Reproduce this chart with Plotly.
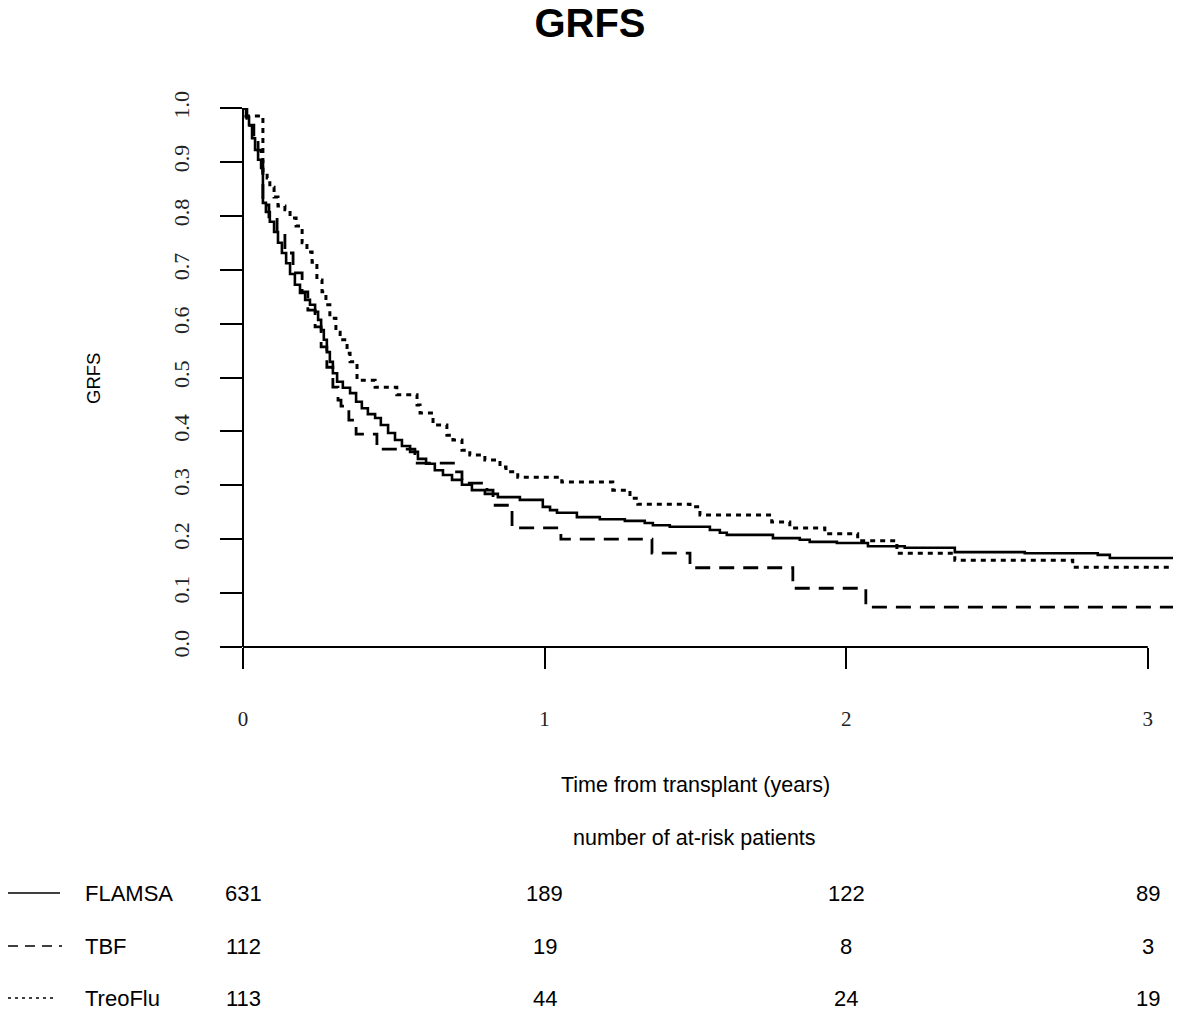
import plotly.graph_objects as go

# ---------------- data ----------------
flamsa_t = [0, 0.010, 0.020, 0.030, 0.040, 0.050, 0.060, 0.066, 0.076, 0.089, 0.103, 0.116, 0.129,
            0.143, 0.156, 0.172, 0.189, 0.206, 0.222, 0.239, 0.249, 0.259, 0.268, 0.278, 0.288,
            0.298, 0.312, 0.331, 0.355, 0.375, 0.394, 0.414, 0.438, 0.457, 0.481, 0.504, 0.527,
            0.554, 0.580, 0.607, 0.636, 0.663, 0.693, 0.726, 0.759, 0.802, 0.845, 0.918, 0.994,
            1.018, 1.041, 1.107, 1.183, 1.266, 1.332, 1.359, 1.415, 1.548, 1.581, 1.604, 1.757,
            1.846, 1.879, 1.969, 2.072, 2.194, 2.360, 2.592, 2.834, 2.874, 3.10]
flamsa_s = [1.0, 0.983, 0.968, 0.944, 0.922, 0.904, 0.889, 0.824, 0.807, 0.789, 0.770, 0.750, 0.731,
            0.712, 0.692, 0.672, 0.657, 0.644, 0.635, 0.622, 0.607, 0.588, 0.570, 0.547, 0.529,
            0.508, 0.492, 0.481, 0.471, 0.455, 0.443, 0.432, 0.425, 0.412, 0.397, 0.384, 0.373,
            0.362, 0.349, 0.340, 0.328, 0.319, 0.310, 0.301, 0.291, 0.284, 0.278, 0.273, 0.260,
            0.254, 0.249, 0.241, 0.237, 0.234, 0.230, 0.226, 0.223, 0.217, 0.212, 0.208, 0.202,
            0.199, 0.195, 0.193, 0.187, 0.184, 0.176, 0.174, 0.171, 0.165, 0.165]

tbf_t = [0, 0.013, 0.023, 0.036, 0.050, 0.060, 0.066, 0.086, 0.113, 0.139, 0.166, 0.196, 0.215,
         0.239, 0.259, 0.278, 0.298, 0.315, 0.325, 0.351, 0.375, 0.444, 0.570, 0.703, 0.726,
         0.809, 0.829, 0.892, 1.054, 1.356, 1.482, 1.823, 2.065, 3.10]
tbf_s = [1.0, 0.981, 0.968, 0.944, 0.922, 0.904, 0.820, 0.798, 0.768, 0.731, 0.694, 0.659, 0.625,
         0.594, 0.557, 0.519, 0.482, 0.458, 0.447, 0.421, 0.395, 0.367, 0.341, 0.325, 0.304,
         0.291, 0.263, 0.221, 0.200, 0.174, 0.147, 0.109, 0.074, 0.074]

treo_t = [0, 0.010, 0.066, 0.080, 0.089, 0.103, 0.116, 0.139, 0.156, 0.176, 0.196, 0.212, 0.229,
          0.245, 0.262, 0.275, 0.288, 0.308, 0.322, 0.345, 0.355, 0.378, 0.438, 0.510, 0.577,
          0.587, 0.630, 0.676, 0.696, 0.726, 0.752, 0.802, 0.852, 0.872, 0.911, 1.057, 1.226,
          1.283, 1.309, 1.482, 1.515, 1.753, 1.813, 1.929, 2.038, 2.168, 2.360, 2.751, 3.10]
treo_s = [1.0, 0.985, 0.881, 0.870, 0.853, 0.835, 0.818, 0.811, 0.796, 0.781, 0.750, 0.733, 0.714,
          0.681, 0.659, 0.635, 0.610, 0.584, 0.570, 0.545, 0.529, 0.495, 0.482, 0.468, 0.449,
          0.434, 0.412, 0.393, 0.384, 0.365, 0.356, 0.347, 0.334, 0.325, 0.315, 0.306, 0.291,
          0.276, 0.265, 0.260, 0.245, 0.232, 0.221, 0.210, 0.197, 0.174, 0.161, 0.148, 0.148]

group_names = ["FLAMSA", "TBF", "TreoFlu"]
risk_times = [0, 1, 2, 3]
risk_counts = [[631, 189, 122, 89],
               [112, 19, 8, 3],
               [113, 44, 24, 19]]
x_ticks = [0, 1, 2, 3]
y_ticks = [0.0, 0.1, 0.2, 0.3, 0.4, 0.5, 0.6, 0.7, 0.8, 0.9, 1.0]
y_tick_text = ["%.1f" % v for v in y_ticks]

# ---------------- figure ----------------
OFF = 8  # page body margin of the browser
W, H = 1181 - OFF, 1010 - OFF
L, T = 243 - OFF, 108 - OFF
R = W - (1178 - OFF)
B = H - (647 - OFF)
XMAX = 3.10
plot_w = W - L - R
plot_h = H - T - B

def px2paper_x(px):
    return (px - OFF - L) / plot_w

def py2paper_y(py):
    return (H - B - (py - OFF)) / plot_h

dashes = ["solid", "15px,9px", "5px,5px"]
widths = [2.6, 2.8, 3.0]
series = [(flamsa_t, flamsa_s), (tbf_t, tbf_s), (treo_t, treo_s)]

fig = go.Figure()
for (t, s), d, w, n in zip(series, dashes, widths, group_names):
    fig.add_trace(go.Scatter(x=t, y=s, mode="lines", name=n,
                             line=dict(color="black", width=w, dash=d, shape="hv"),
                             cliponaxis=False, showlegend=False))

serif = "Liberation Serif, Times New Roman, serif"
sans = "Liberation Sans, Arial, sans-serif"

fig.update_layout(
    width=W, height=H,
    margin=dict(l=L, r=R, t=T, b=B),
    plot_bgcolor="white", paper_bgcolor="white",
    showlegend=False,
    title=dict(text="<b>GRFS</b>", x=(590 - OFF) / W, xref="container",
               y=1 - (23 - OFF) / H, yref="container",
               xanchor="center", yanchor="middle",
               font=dict(family=sans, size=40, color="black")),
    xaxis=dict(range=[0, XMAX], tickvals=x_ticks, ticktext=[str(v) for v in x_ticks],
               showgrid=False, zeroline=False, showline=False,
               ticks="outside", ticklen=21, tickwidth=2, tickcolor="black",
               ticklabelstandoff=32,
               tickfont=dict(family=serif, size=21, color="#222")),
    yaxis=dict(range=[0, 1], tickvals=y_ticks, ticktext=y_tick_text,
               showgrid=False, zeroline=False, showline=False,
               ticks="outside", ticklen=22, tickwidth=2, tickcolor="black",
               tickangle=-90, ticklabelstandoff=22,
               tickfont=dict(family=serif, size=22, color="#222")),
)

# axis lines (R style: from first to last tick)
fig.add_shape(type="line", xref="paper", yref="paper", x0=0, x1=3 / XMAX, y0=0, y1=0,
              line=dict(color="black", width=2))
fig.add_shape(type="line", xref="paper", yref="paper", x0=0, x1=0, y0=0, y1=1,
              line=dict(color="black", width=2))

# axis titles
fig.add_annotation(text="GRFS", xref="paper", yref="paper", x=px2paper_x(93), y=py2paper_y(379),
                   textangle=-90, showarrow=False, xanchor="center", yanchor="middle",
                   font=dict(family=sans, size=18.5, color="black"))
fig.add_annotation(text="Time from transplant (years)", xref="paper", yref="paper",
                   x=px2paper_x(695), y=py2paper_y(785), showarrow=False,
                   xanchor="center", yanchor="middle",
                   font=dict(family=sans, size=21.5, color="black"))
fig.add_annotation(text="number of at-risk patients", xref="paper", yref="paper",
                   x=px2paper_x(694), y=py2paper_y(838), showarrow=False,
                   xanchor="center", yanchor="middle",
                   font=dict(family=sans, size=21.5, color="black"))

# risk table
row_y = [893, 946, 998]
sample_dash = ["solid", "10px,7px", "3px,4px"]
sample_end = [60, 62, 55]
for i, name in enumerate(group_names):
    yp = py2paper_y(row_y[i])
    fig.add_shape(type="line", xref="paper", yref="paper",
                  x0=px2paper_x(OFF), x1=px2paper_x(sample_end[i]), y0=yp, y1=yp,
                  line=dict(color="black", width=1.6, dash=sample_dash[i]))
    fig.add_annotation(text=name, xref="paper", yref="paper", x=px2paper_x(83), y=yp,
                       showarrow=False, xanchor="left", yanchor="middle",
                       font=dict(family=sans, size=22, color="black"))
    for tt, cnt in zip(risk_times, risk_counts[i]):
        fig.add_annotation(text=str(cnt), xref="x", yref="paper", x=tt, y=yp,
                           showarrow=False, xanchor="center", yanchor="middle",
                           font=dict(family=sans, size=22, color="black"))

fig.write_html("out.html")
